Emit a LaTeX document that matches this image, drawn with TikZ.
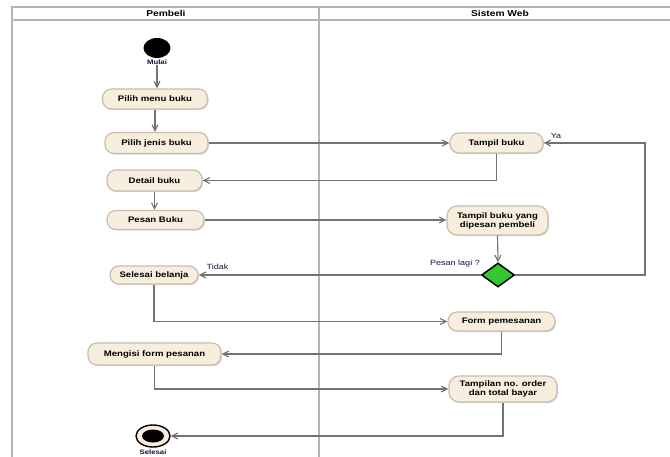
\documentclass[tikz,border=0pt]{standalone}
\usepackage{fontspec}
\setmainfont{Liberation Sans}[FakeStretch=1.2]
\usetikzlibrary{arrows.meta,shapes.geometric,shadows}

\definecolor{lanegray}{RGB}{180,180,180}
\definecolor{flowgray}{RGB}{115,115,115}
\definecolor{actfill}{RGB}{248,238,222}
\definecolor{actedge}{RGB}{200,190,175}
\definecolor{decgreen}{RGB}{52,200,52}
\definecolor{lbl}{RGB}{20,20,60}

\begin{document}
\begin{tikzpicture}[x=1pt,y=-1pt,
  lane/.style={draw=lanegray,line width=2.5pt},
  head/.style={font=\bfseries\fontsize{8.5}{9}\selectfont,inner sep=0pt},
  act/.style={draw=actedge,line width=1.2pt,fill=actfill,rounded corners=9pt,
    inner sep=0pt,align=center,font=\bfseries\fontsize{8}{9}\selectfont,
    drop shadow={shadow xshift=1pt,shadow yshift=-1.2pt,opacity=0.3}},
  flow/.style={draw=flowgray,line width=1.1pt,-{Straight Barb[length=6pt,width=6pt]}},
  tag/.style={font=\fontsize{7.5}{8}\selectfont,text=lbl,inner sep=0pt},
  bigtag/.style={font=\bfseries\fontsize{6.5}{7}\selectfont,text=lbl,inner sep=0pt},
  initial/.style={ellipse,fill=black,minimum width=27pt,minimum height=20pt,inner sep=0pt},
  finalring/.style={ellipse,draw=black,line width=1.4pt,fill=actfill,minimum width=34pt,minimum height=22pt,inner sep=0pt},
  finalcore/.style={ellipse,fill=black,minimum width=22pt,minimum height=13pt,inner sep=0pt},
  decision/.style={diamond,draw=black,line width=1.5pt,fill=decgreen,minimum width=33pt,minimum height=24pt,inner sep=0pt}
]
\useasboundingbox (0,0) rectangle (670,457);
\fill[white] (0,0) rectangle (670,457);

% swimlanes
\draw[lane] (12,457) -- (12,7) -- (670,7);
\draw[lane] (12,20) -- (670,20);
\draw[lane] (319,7) -- (319,457);
\node[head] (hp) at (166,13.5) {Pembeli};
\node[head] (hs) at (500,13.5) {Sistem Web};

% Pembeli
\node[initial] (start) at (157,48) {};
\node[bigtag] (mulai) at (157,62) {Mulai};
\node[act,minimum width=105pt,minimum height=20pt] (pmb) at (155,99) {Pilih menu buku};
\node[act,minimum width=103pt,minimum height=21pt] (pjb) at (156.5,143) {Pilih jenis buku};
\node[act,minimum width=95pt,minimum height=21pt] (db) at (154.5,180.5) {Detail buku};
\node[act,minimum width=97pt,minimum height=19pt] (pb) at (155.5,220) {Pesan Buku};
\node[act,minimum width=88pt,minimum height=18pt] (sb) at (154,275) {Selesai belanja};
\node[act,minimum width=133pt,minimum height=22pt] (mf) at (154.5,354) {Mengisi form pesanan};
\node[finalring] (end) at (153,436) {};
\node[finalcore] (endcore) at (end.center) {};
\node[bigtag] (selesai) at (153,452) {Selesai};

% Sistem Web
\node[act,minimum width=93pt,minimum height=20pt] (tb) at (496.5,143) {Tampil buku};
\node[act,minimum width=101pt,minimum height=29pt,rounded corners=10pt] (tbp) at (497.5,220.5) {Tampil buku yang\\dipesan pembeli};
\node[decision] (dec) at (498,275) {};
\node[act,minimum width=107pt,minimum height=19pt] (fp) at (501.5,321.5) {Form pemesanan};
\node[act,minimum width=108pt,minimum height=26pt,rounded corners=10pt] (tno) at (503,389) {Tampilan no. order\\dan total bayar};

\node[tag] (lagi) at (455,264) {Pesan lagi ?};
\node[tag] (tidak) at (217.5,267) {Tidak};
\node[tag] (ya) at (556,135.5) {Ya};
\coordinate (back) at (645,143);

% flows
\draw[flow] (mulai.south) -- (mulai.south |- pmb.north);
\draw[flow] (pmb.south) -- (pmb.south |- pjb.north);
\draw[flow] (pjb.east) -- (tb.west);
\draw[flow] (tb.south) |- (db.east);
\draw[flow] (db.south) -- (db.south |- pb.north);
\draw[flow] (pb.east) -- (pb.east -| tbp.west);
\draw[flow] (tbp.south) -- (dec.north);
\draw[flow] (dec.west) -- (dec.west -| sb.east);
\draw[flow] (dec.east) -| (back) -- (tb.east);
\draw[flow] (sb.south) |- (fp.west);
\draw[flow] (fp.south) |- (mf.east);
\draw[flow] (mf.south) |- (tno.west);
\draw[flow] (tno.south) |- (end.east);
\end{tikzpicture}
\end{document}
